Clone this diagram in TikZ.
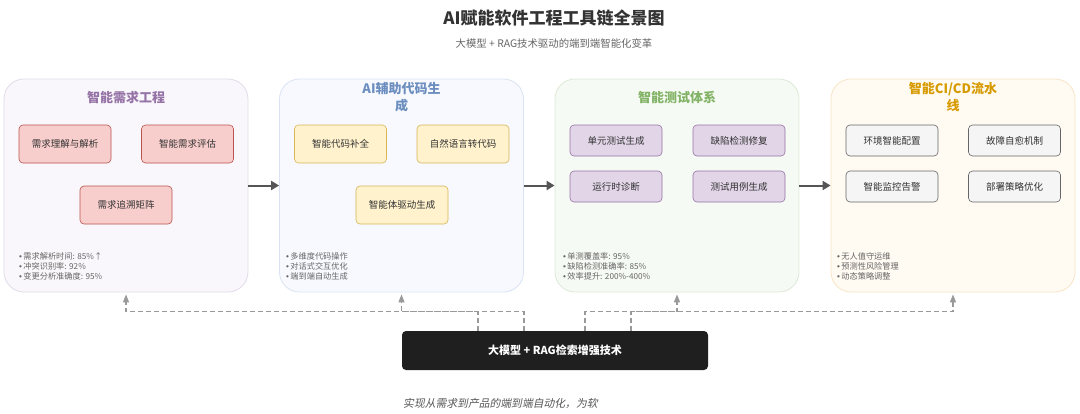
\documentclass[tikz,border=0pt]{standalone}
\usepackage{fontspec}
\setmainfont{Noto Sans CJK SC}
\newfontfamily\slantfont[FakeSlant=0.2]{Noto Sans CJK SC}
\newfontfamily\latinfont{Liberation Sans}
\newcommand{\bul}{{\latinfont •}\,}
\usetikzlibrary{arrows.meta}

\definecolor{ctext}{RGB}{51,51,51}
\definecolor{cgray}{RGB}{102,102,102}
\definecolor{clink}{RGB}{153,153,153}
\definecolor{carrow}{RGB}{85,85,85}
\definecolor{cpurple}{RGB}{150,115,166}
\definecolor{cblue}{RGB}{108,142,191}
\definecolor{cgreen}{RGB}{130,179,102}
\definecolor{corange}{RGB}{215,155,0}
% panel backgrounds
\definecolor{pbg1}{RGB}{249,247,251}\definecolor{pln1}{RGB}{226,219,233}
\definecolor{pbg2}{RGB}{247,249,254}\definecolor{pln2}{RGB}{218,227,243}
\definecolor{pbg3}{RGB}{246,250,244}\definecolor{pln3}{RGB}{220,233,214}
\definecolor{pbg4}{RGB}{255,250,242}\definecolor{pln4}{RGB}{248,229,198}
% tool boxes
\definecolor{redf}{RGB}{248,206,204}\definecolor{redl}{RGB}{184,84,80}
\definecolor{yelf}{RGB}{255,242,204}\definecolor{yell}{RGB}{214,182,86}
\definecolor{purf}{RGB}{225,213,231}\definecolor{purl}{RGB}{150,115,166}
\definecolor{gryf}{RGB}{245,245,245}\definecolor{gryl}{RGB}{102,102,102}

\begin{document}
\begin{tikzpicture}[x=1pt,y=-1pt,
    panel/.style={rounded corners=20pt,line width=0.8pt,minimum width=244pt,minimum height=213pt,inner sep=0pt},
    ptitle/.style={font=\fontsize{13}{17}\selectfont\bfseries,align=center},
    tool/.style={rounded corners=4pt,line width=0.6pt,minimum width=92pt,minimum height=#1,inner sep=0pt,
      font=\fontsize{9.5}{11}\selectfont,text=ctext},
    tool/.default=38pt,
    stat/.style={anchor=west,font=\fontsize{8.2}{10}\selectfont,text=cgray,inner sep=0pt},
    flow/.style={-{Triangle[width=9pt,length=8pt]},line width=2pt,draw=carrow},
    link/.style={-{Triangle[width=6pt,length=8pt]},line width=1.2pt,draw=clink,dash pattern=on 5pt off 3pt,shorten >=2pt}]
  \useasboundingbox (0,0) rectangle (1080,413);

  \node[font=\fontsize{17}{20}\selectfont\bfseries,text=ctext] (title) at (554,18) {AI赋能软件工程工具链全景图};
  \node[font=\fontsize{10.4}{12}\selectfont,text=cgray] (subtitle) at (554,44) {大模型 + RAG技术驱动的端到端智能化变革};

  % stages
  \foreach \x/\i in {126/1, 401.5/2, 677/3, 953/4}
    \node[panel,fill=pbg\i,draw=pln\i] (p\i) at (\x,185.5) {};
  \node[ptitle,text=cpurple] (t1) at (126,98) {智能需求工程};
  \node[ptitle,text=cblue] (t2) at (401.5,97.5) {AI辅助代码生\\成};
  \node[ptitle,text=cgreen] (t3) at (677,98) {智能测试体系};
  \node[ptitle,text=corange] (t4) at (953,97.5) {智能CI/CD流水\\线};

  \draw[flow] (p1.east) -- (p2.west);
  \draw[flow] (p2.east) -- (p3.west);
  \draw[flow] (p3.east) -- (p4.west);

  % tools
  \node[tool,fill=redf,draw=redl] (req1) at (65,144) {需求理解与解析};
  \node[tool,fill=redf,draw=redl] (req2) at (187.5,144) {智能需求评估};
  \node[tool,fill=redf,draw=redl] (req3) at (126,205) {需求追溯矩阵};
  \node[tool,fill=yelf,draw=yell] (code1) at (340.5,144) {智能代码补全};
  \node[tool,fill=yelf,draw=yell] (code2) at (463,144) {自然语言转代码};
  \node[tool,fill=yelf,draw=yell] (code3) at (402,205) {智能体驱动生成};
  \node[tool=31pt,fill=purf,draw=purl] (test1) at (616,140.5) {单元测试生成};
  \node[tool=31pt,fill=purf,draw=purl] (test2) at (739,140.5) {缺陷检测修复};
  \node[tool=31pt,fill=purf,draw=purl] (test3) at (616,186.5) {运行时诊断};
  \node[tool=31pt,fill=purf,draw=purl] (test4) at (739,186.5) {测试用例生成};
  \node[tool=31pt,fill=gryf,draw=gryl] (ops1) at (892,140.5) {环境智能配置};
  \node[tool=31pt,fill=gryf,draw=gryl] (ops2) at (1014.5,140.5) {故障自愈机制};
  \node[tool=31pt,fill=gryf,draw=gryl] (ops3) at (892,186.5) {智能监控告警};
  \node[tool=31pt,fill=gryf,draw=gryl] (ops4) at (1014.5,186.5) {部署策略优化};

  % metrics
  \foreach \t [count=\i from 0] in {需求解析时间: 85\%↑, 冲突识别率: 92\%, 变更分析准确度: 95\%}
    \node[stat] (s1-\i) at (19,{256.5+10*\i}) {\bul\t};
  \foreach \t [count=\i from 0] in {多维度代码操作, 对话式交互优化, 端到端自动生成}
    \node[stat] (s2-\i) at (286,{256.5+10*\i}) {\bul\t};
  \foreach \t [count=\i from 0] in {单测覆盖率: 95\%, 缺陷检测准确率: 85\%, 效率提升: 200\%-400\%}
    \node[stat] (s3-\i) at (563,{256.5+10*\i}) {\bul\t};
  \foreach \t [count=\i from 0] in {无人值守运维, 预测性风险管理, 动态策略调整}
    \node[stat] (s4-\i) at (837,{256.5+10*\i}) {\bul\t};

  % base technology
  \node[fill=black!88,rounded corners=4pt,minimum width=306pt,minimum height=39pt,inner sep=0pt,
    text=white,font=\fontsize{11}{13}\selectfont\bfseries] (rag) at (555,350.5) {大模型 + RAG检索增强技术};
  \draw[link] ([xshift=-31pt]rag.north) -- ++(0,-19) -| (p1.south);
  \draw[link] ([xshift=-77pt]rag.north) -- ++(0,-19) -| (p2.south);
  \draw[link] ([xshift=76pt]rag.north) -- ++(0,-19) -| (p3.south);
  \draw[link] ([xshift=30pt]rag.north) -- ++(0,-19) -| (p4.south);

  \node[anchor=west,inner sep=0pt,font=\fontsize{10.8}{13}\slantfont,text=carrow] (note) at (403,403) {实现从需求到产品的端到端自动化，为软};
\end{tikzpicture}
\end{document}
